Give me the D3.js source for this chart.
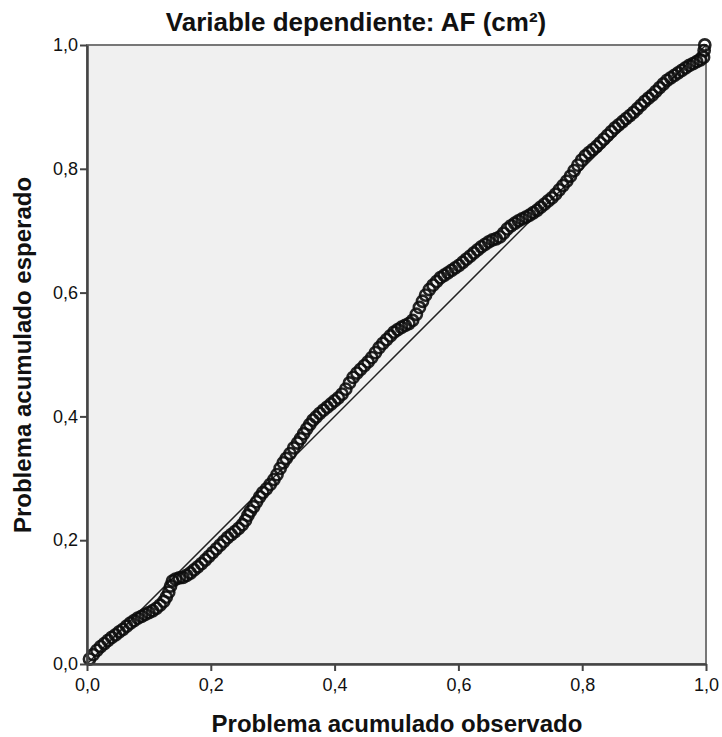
<!DOCTYPE html>
<html>
<head>
<meta charset="utf-8">
<script src="https://cdn.jsdelivr.net/npm/d3@7"></script>
<style>
  body { margin: 0; background: #fff; }
  svg text { font-family: "Liberation Sans", Arial, sans-serif; fill: #111; }
</style>
</head>
<body>
<div id="chart"></div>
<script>
// P-P plot data: observed vs expected cumulative probability
const observed = [
  0.004, 0.010, 0.016, 0.022, 0.028, 0.034, 0.040, 0.046, 0.052, 0.058,
  0.064, 0.070, 0.076, 0.082, 0.088, 0.094, 0.100, 0.106, 0.112, 0.118,
  0.124, 0.128, 0.132, 0.135, 0.138, 0.143, 0.149, 0.155, 0.161, 0.167,
  0.173, 0.179, 0.185, 0.191, 0.197, 0.203, 0.209, 0.215, 0.221, 0.227,
  0.233, 0.239, 0.245, 0.251, 0.256, 0.260, 0.264, 0.269, 0.274, 0.279,
  0.284, 0.290, 0.296, 0.302, 0.307, 0.312, 0.317, 0.322, 0.328, 0.334,
  0.340, 0.345, 0.350, 0.355, 0.360, 0.365, 0.370, 0.376, 0.382, 0.388,
  0.394, 0.400, 0.406, 0.412, 0.418, 0.424, 0.430, 0.436, 0.442, 0.448,
  0.454, 0.460, 0.466, 0.472, 0.478, 0.484, 0.490, 0.496, 0.502, 0.508,
  0.514, 0.520, 0.526, 0.532, 0.537, 0.542, 0.547, 0.553, 0.559, 0.565,
  0.571, 0.577, 0.583, 0.589, 0.595, 0.601, 0.607, 0.613, 0.619, 0.625,
  0.631, 0.637, 0.643, 0.649, 0.655, 0.661, 0.667, 0.673, 0.679, 0.685,
  0.691, 0.697, 0.703, 0.709, 0.715, 0.721, 0.727, 0.733, 0.739, 0.745,
  0.751, 0.757, 0.763, 0.769, 0.775, 0.781, 0.787, 0.793, 0.799, 0.805,
  0.811, 0.817, 0.823, 0.829, 0.835, 0.841, 0.847, 0.853, 0.859, 0.865,
  0.871, 0.877, 0.883, 0.889, 0.895, 0.901, 0.907, 0.913, 0.919, 0.925,
  0.931, 0.937, 0.943, 0.949, 0.955, 0.961, 0.967, 0.973, 0.979, 0.985,
  0.991, 0.996, 0.997, 0.998
]
const expected = [
  0.008, 0.015, 0.022, 0.028, 0.033, 0.038, 0.043, 0.047, 0.052, 0.056,
  0.061, 0.066, 0.070, 0.074, 0.077, 0.080, 0.083, 0.086, 0.090, 0.095,
  0.101, 0.108, 0.116, 0.126, 0.134, 0.137, 0.139, 0.140, 0.143, 0.147,
  0.152, 0.157, 0.162, 0.168, 0.174, 0.180, 0.186, 0.192, 0.198, 0.204,
  0.209, 0.214, 0.219, 0.225, 0.232, 0.240, 0.247, 0.254, 0.262, 0.270,
  0.277, 0.283, 0.290, 0.298, 0.306, 0.316, 0.325, 0.332, 0.340, 0.349,
  0.357, 0.364, 0.372, 0.380, 0.387, 0.394, 0.399, 0.405, 0.410, 0.415,
  0.420, 0.425, 0.430, 0.436, 0.444, 0.454, 0.463, 0.470, 0.476, 0.482,
  0.488, 0.495, 0.503, 0.511, 0.518, 0.524, 0.530, 0.536, 0.540, 0.544,
  0.547, 0.550, 0.555, 0.565, 0.576, 0.586, 0.596, 0.605, 0.612, 0.618,
  0.624, 0.628, 0.632, 0.636, 0.640, 0.644, 0.649, 0.654, 0.659, 0.664,
  0.669, 0.674, 0.678, 0.682, 0.685, 0.687, 0.690, 0.696, 0.703, 0.708,
  0.712, 0.716, 0.719, 0.722, 0.725, 0.729, 0.733, 0.738, 0.743, 0.748,
  0.753, 0.759, 0.766, 0.773, 0.780, 0.788, 0.797, 0.806, 0.814, 0.821,
  0.826, 0.831, 0.836, 0.842, 0.848, 0.854, 0.860, 0.866, 0.871, 0.876,
  0.881, 0.886, 0.891, 0.897, 0.903, 0.909, 0.914, 0.919, 0.925, 0.931,
  0.937, 0.943, 0.947, 0.951, 0.955, 0.959, 0.963, 0.967, 0.970, 0.973,
  0.976, 0.980, 0.991, 1.000
]
const tickValues = [0, 0.2, 0.4, 0.6, 0.8, 1.0]
const titleText = 'Variable dependiente: AF (cm²)'
const xLabel = 'Problema acumulado observado'
const yLabel = 'Problema acumulado esperado'

var width = 722
var height = 737
var plot = { left: 87, right: 706, top: 45, bottom: 664 }

const xScale = d3.scaleLinear().domain([0, 1]).range([plot.left, plot.right])
const yScale = d3.scaleLinear().domain([0, 1]).range([plot.bottom, plot.top])
const fmt = d => d3.format('.1f')(d).replace('.', ',')

const svg = d3.select('#chart')
  .append('svg')
  .attr('width', width)
  .attr('height', height)

// plot background
svg.append('rect')
  .attr('x', plot.left)
  .attr('y', plot.top)
  .attr('width', plot.right - plot.left)
  .attr('height', plot.bottom - plot.top)
  .attr('fill', '#f0f0f0')
  .attr('stroke', '#777')
  .attr('stroke-width', 2)

// reference diagonal
svg.append('line')
  .attr('x1', xScale(0)).attr('y1', yScale(0))
  .attr('x2', xScale(1)).attr('y2', yScale(1))
  .attr('stroke', '#222')
  .attr('stroke-width', 1.5)

// points
const points = observed.map((d, i) => ({ x: d, y: expected[i] }))
svg.append('g')
  .selectAll('circle')
  .data(points)
  .enter()
  .append('circle')
  .attr('cx', d => xScale(d.x))
  .attr('cy', d => yScale(d.y))
  .attr('r', 5.6)
  .attr('fill', 'none')
  .attr('stroke', '#0d0d0d')
  .attr('stroke-width', 2.6)
  .attr('stroke-opacity', 0.9)

// axes
const xAxis = d3.axisBottom(xScale).tickValues(tickValues).tickFormat(fmt).tickSize(7).tickSizeOuter(0)
const yAxis = d3.axisLeft(yScale).tickValues(tickValues).tickFormat(fmt).tickSize(7).tickSizeOuter(0)

const gx = svg.append('g')
  .attr('transform', `translate(0, ${plot.bottom})`)
  .call(xAxis)
const gy = svg.append('g')
  .attr('transform', `translate(${plot.left}, 0)`)
  .call(yAxis)

;[gx, gy].forEach(g => {
  g.select('.domain').attr('stroke', '#444').attr('stroke-width', 2.5)
  g.selectAll('.tick line').attr('stroke', '#444').attr('stroke-width', 2)
  g.selectAll('.tick text')
    .attr('font-family', '"Liberation Sans", Arial, sans-serif')
    .attr('font-size', 18)
    .attr('fill', '#222')
})
gx.selectAll('.tick text').attr('dy', '0.95em')
gy.selectAll('.tick text').attr('dx', '1px')

// title
svg.append('text')
  .attr('x', 356)
  .attr('y', 31)
  .attr('text-anchor', 'middle')
  .attr('font-size', 26)
  .attr('font-weight', 'bold')
  .text(titleText)

// axis labels
svg.append('text')
  .attr('x', 397)
  .attr('y', 732)
  .attr('text-anchor', 'middle')
  .attr('font-size', 24)
  .attr('font-weight', 'bold')
  .text(xLabel)

svg.append('text')
  .attr('transform', 'rotate(-90)')
  .attr('x', -355)
  .attr('y', 31)
  .attr('text-anchor', 'middle')
  .attr('font-size', 24)
  .attr('font-weight', 'bold')
  .text(yLabel)
</script>
</body>
</html>
